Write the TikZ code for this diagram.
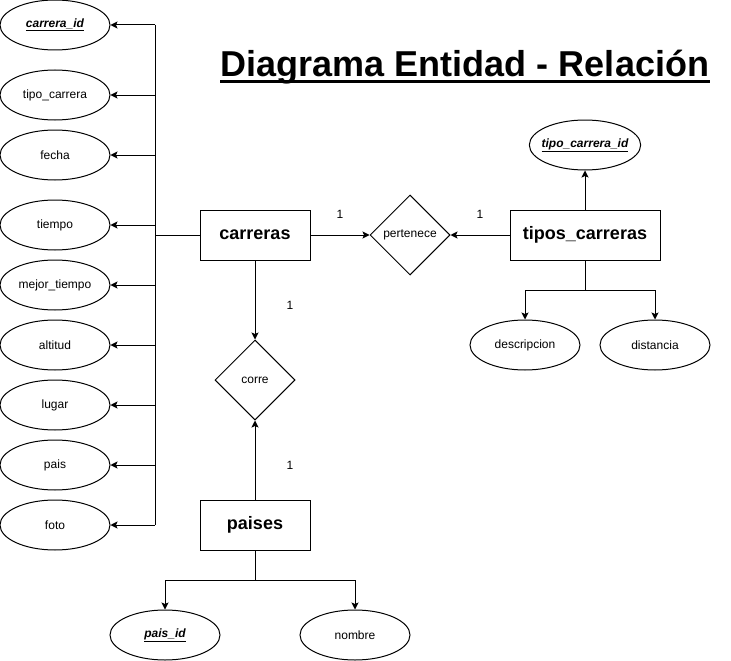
\documentclass[tikz,border=0pt]{standalone}
\usepackage{fontspec}
\setmainfont{Liberation Sans}
\usetikzlibrary{arrows.meta,shapes.geometric}

\begin{document}
\begin{tikzpicture}[x=1pt,y=-1pt,line width=1pt,>={Stealth[length=7pt,width=7pt,inset=1.5pt]},
    atributo/.style={draw,ellipse,minimum width=110pt,minimum height=50pt,inner sep=0pt,font=\fontsize{12}{14}\selectfont},
    clave/.style={atributo,font=\bfseries\itshape\fontsize{12}{14}\selectfont},
    entidad/.style={draw,minimum width=110pt,minimum height=50pt,font=\bfseries\fontsize{18}{21}\selectfont},
    relacion/.style={draw,diamond,minimum width=80pt,minimum height=80pt,inner sep=0pt,font=\fontsize{12}{14}\selectfont},
    card/.style={font=\fontsize{12}{14}\selectfont}]
    \useasboundingbox (0,0) rectangle (731,661);

    \node[anchor=base,inner sep=0pt,font=\bfseries\fontsize{36}{43}\selectfont] (titulo) at (465,77) {Diagrama Entidad - Relación};
    \draw[line width=2.6pt] ([yshift=-4.5pt]titulo.base west) -- ([yshift=-4.5pt]titulo.base east);

    \node[entidad] (carreras) at (255,235) {carreras};
    \node[entidad,minimum width=150pt] (tipos) at (585,235) {tipos\_carreras};
    \node[entidad] (paises) at (255,525) {paises};
    \node[relacion] (pertenece) at (410,235) {pertenece};
    \node[relacion] (corre) at (255,380) {corre};

    \node[clave] (carreraid) at (55,25) {\underline{carrera\_id}};
    \node[atributo] (tipocarrera) at (55,95) {tipo\_carrera};
    \node[atributo] (fecha) at (55,155) {fecha};
    \node[atributo] (tiempo) at (55,225) {tiempo};
    \node[atributo] (mejortiempo) at (55,285) {mejor\_tiempo};
    \node[atributo] (altitud) at (55,345) {altitud};
    \node[atributo] (lugar) at (55,405) {lugar};
    \node[atributo] (pais) at (55,465) {pais};
    \node[atributo] (foto) at (55,525) {foto};

    \node[clave,inner xsep=-4pt] (tipoid) at (585,145) {\underline{tipo\_carrera\_id}};
    \node[atributo] (descripcion) at (525,345) {descripcion};
    \node[atributo] (distancia) at (655,345) {distancia};

    \node[clave] (paisid) at (165,635) {\underline{pais\_id}};
    \node[atributo] (nombre) at (355,635) {nombre};

    \node[card] (c1) at (340,214) {1};
    \node[card] (c2) at (480,214) {1};
    \node[card] (c3) at (290,305) {1};
    \node[card] (c4) at (290,465) {1};

    \coordinate (eje) at (155,235);
    \draw (carreras.west) -- (eje);
    \draw (eje |- carreraid) -- (eje |- foto);
    \draw[->] (eje |- carreraid) -- (carreraid.east);
    \draw[->] (eje |- tipocarrera) -- (tipocarrera.east);
    \draw[->] (eje |- fecha) -- (fecha.east);
    \draw[->] (eje |- tiempo) -- (tiempo.east);
    \draw[->] (eje |- mejortiempo) -- (mejortiempo.east);
    \draw[->] (eje |- altitud) -- (altitud.east);
    \draw[->] (eje |- lugar) -- (lugar.east);
    \draw[->] (eje |- pais) -- (pais.east);
    \draw[->] (eje |- foto) -- (foto.east);

    \draw[->] (carreras) -- (pertenece);
    \draw[->] (tipos) -- (pertenece);
    \draw[->] (carreras) -- (corre);
    \draw[->] (paises) -- (corre);

    \draw[->] (tipos) -- (tipoid);
    \draw[->] (tipos.south) -- ++(0,30) -| (descripcion.north);
    \draw[->] (tipos.south) -- ++(0,30) -| (distancia.north);

    \draw[->] (paises.south) -- ++(0,30) -| (paisid.north);
    \draw[->] (paises.south) -- ++(0,30) -| (nombre.north);
\end{tikzpicture}
\end{document}
